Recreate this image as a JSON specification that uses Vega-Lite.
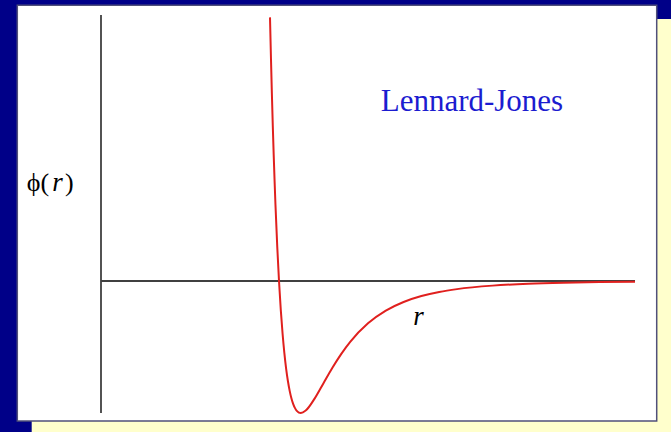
{
  "$schema": "https://vega.github.io/schema/vega-lite/v6.json",
  "width": 671,
  "height": 432,
  "autosize": {"type": "fit", "contains": "padding"},
  "padding": 0,
  "background": "#000088",
  "config": {"view": {"stroke": null}},
  "layer": [
    {
      "data": {"values": [{"x": -0.3893, "x2": 3.2022, "y": 1.9848, "y2": -1.1439}]},
      "mark": {"type": "rect", "fill": "#FFFFCC", "stroke": null},
      "encoding": {
        "x": {"field": "x", "type": "quantitative", "scale": {"domain": [-0.5674, 3.2022], "nice": false, "zero": false}, "axis": null},
        "x2": {"field": "x2"},
        "y": {"field": "y", "type": "quantitative", "scale": {"domain": [-1.1439, 2.1288], "nice": false, "zero": false}, "axis": null},
        "y2": {"field": "y2"}
      }
    },
    {
      "data": {"values": [{"x": -0.4702, "x2": 3.1219, "y": 2.0886, "y2": -1.0606}]},
      "mark": {"type": "rect", "fill": "#FFFFFF", "stroke": "#50507a", "strokeWidth": 1.5},
      "encoding": {
        "x": {"field": "x", "type": "quantitative", "scale": {"domain": [-0.5674, 3.2022], "nice": false, "zero": false}, "axis": null},
        "x2": {"field": "x2"},
        "y": {"field": "y", "type": "quantitative", "scale": {"domain": [-1.1439, 2.1288], "nice": false, "zero": false}, "axis": null},
        "y2": {"field": "y2"}
      }
    },
    {
      "data": {"values": [
        {"x": 0, "x2": 0, "y": 2.015, "y2": -1.0},
        {"x": 0, "x2": 3.0, "y": 0, "y2": 0}
      ]},
      "mark": {"type": "rule", "color": "#404040", "strokeWidth": 1.8, "strokeCap": "butt"},
      "encoding": {
        "x": {"field": "x", "type": "quantitative", "scale": {"domain": [-0.5674, 3.2022], "nice": false, "zero": false}, "axis": null},
        "x2": {"field": "x2"},
        "y": {"field": "y", "type": "quantitative", "scale": {"domain": [-1.1439, 2.1288], "nice": false, "zero": false}, "axis": null},
        "y2": {"field": "y2"}
      }
    },
    {
      "data": {"values": [
        {"r": 0.9494, "phi": 1.997},
        {"r": 0.955, "phi": 1.68},
        {"r": 0.96, "phi": 1.4183},
        {"r": 0.965, "phi": 1.18},
        {"r": 0.97, "phi": 0.9629},
        {"r": 0.975, "phi": 0.765},
        {"r": 0.98, "phi": 0.5819},
        {"r": 0.99, "phi": 0.2641},
        {"r": 1.0, "phi": 0.0},
        {"r": 1.01, "phi": -0.2184},
        {"r": 1.02, "phi": -0.3979},
        {"r": 1.03, "phi": -0.5444},
        {"r": 1.04, "phi": -0.6629},
        {"r": 1.05, "phi": -0.7575},
        {"r": 1.06, "phi": -0.832},
        {"r": 1.07, "phi": -0.8893},
        {"r": 1.08, "phi": -0.9322},
        {"r": 1.09, "phi": -0.9629},
        {"r": 1.1, "phi": -0.9834},
        {"r": 1.1225, "phi": -1.0},
        {"r": 1.15, "phi": -0.9817},
        {"r": 1.2, "phi": -0.891},
        {"r": 1.25, "phi": -0.7737},
        {"r": 1.3, "phi": -0.657},
        {"r": 1.35, "phi": -0.5516},
        {"r": 1.4, "phi": -0.4607},
        {"r": 1.5, "phi": -0.3203},
        {"r": 1.6, "phi": -0.2242},
        {"r": 1.7, "phi": -0.1589},
        {"r": 1.8, "phi": -0.1142},
        {"r": 1.9, "phi": -0.0832},
        {"r": 2.0, "phi": -0.0615},
        {"r": 2.2, "phi": -0.035},
        {"r": 2.4, "phi": -0.0208},
        {"r": 2.6, "phi": -0.0129},
        {"r": 2.8, "phi": -0.0083},
        {"r": 3.0, "phi": -0.0055}
      ]},
      "mark": {"type": "line", "color": "#e0201e", "strokeWidth": 2, "interpolate": "monotone"},
      "encoding": {
        "x": {"field": "r", "type": "quantitative", "scale": {"domain": [-0.5674, 3.2022], "nice": false, "zero": false}, "axis": null},
        "y": {"field": "phi", "type": "quantitative", "scale": {"domain": [-1.1439, 2.1288], "nice": false, "zero": false}, "axis": null}
      }
    },
    {
      "data": {"values": [{"x": 1.5713, "y": 1.2879, "label": "Lennard-Jones"}]},
      "mark": {"type": "text", "align": "left", "baseline": "alphabetic", "font": "Times New Roman, Liberation Serif, DejaVu Serif, serif", "fontSize": 31, "color": "#1c1cd0"},
      "encoding": {
        "x": {"field": "x", "type": "quantitative", "scale": {"domain": [-0.5674, 3.2022], "nice": false, "zero": false}, "axis": null},
        "y": {"field": "y", "type": "quantitative", "scale": {"domain": [-1.1439, 2.1288], "nice": false, "zero": false}, "axis": null},
        "text": {"field": "label"}
      }
    },
    {
      "data": {"values": [
        {"x": -0.4174, "y": 0.6818, "label": "ϕ("},
        {"x": -0.2022, "y": 0.6818, "label": ")"}
      ]},
      "mark": {"type": "text", "align": "left", "baseline": "alphabetic", "font": "Times New Roman, Liberation Serif, DejaVu Serif, serif", "fontSize": 26, "color": "#000000"},
      "encoding": {
        "x": {"field": "x", "type": "quantitative", "scale": {"domain": [-0.5674, 3.2022], "nice": false, "zero": false}, "axis": null},
        "y": {"field": "y", "type": "quantitative", "scale": {"domain": [-1.1439, 2.1288], "nice": false, "zero": false}, "axis": null},
        "text": {"field": "label"}
      }
    },
    {
      "data": {"values": [
        {"x": -0.2736, "y": 0.6818, "label": "r"},
        {"x": 1.7545, "y": -0.3333, "label": "r"}
      ]},
      "mark": {"type": "text", "align": "left", "baseline": "alphabetic", "font": "Times New Roman, Liberation Serif, DejaVu Serif, serif", "fontSize": 27, "fontStyle": "italic", "color": "#000000"},
      "encoding": {
        "x": {"field": "x", "type": "quantitative", "scale": {"domain": [-0.5674, 3.2022], "nice": false, "zero": false}, "axis": null},
        "y": {"field": "y", "type": "quantitative", "scale": {"domain": [-1.1439, 2.1288], "nice": false, "zero": false}, "axis": null},
        "text": {"field": "label"}
      }
    }
  ]
}
